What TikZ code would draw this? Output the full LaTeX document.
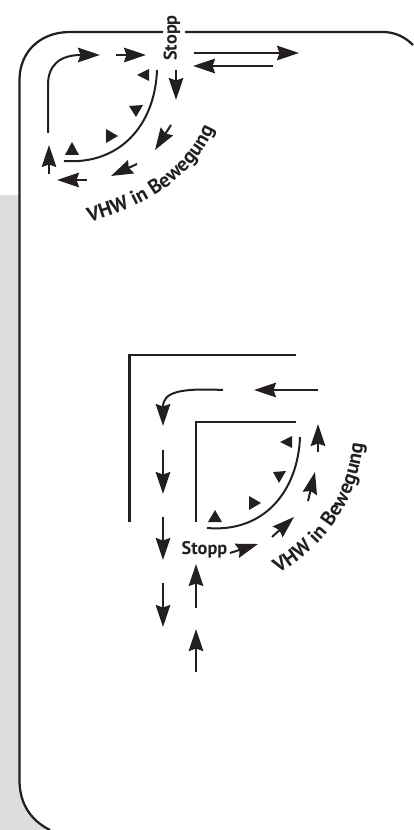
\documentclass[tikz,border=0pt]{standalone}
\usepackage{fontspec}
\setmainfont{PT Sans}
\usepackage{xcolor}
\usepackage{tikz}
\usetikzlibrary{arrows.meta, decorations.text}
\definecolor{ink}{RGB}{35,31,32}
\definecolor{panel}{RGB}{220,221,222}

\begin{document}
\begin{tikzpicture}[
  x=0.02cm, y=-0.02cm,
  road/.style={draw=ink, line width=0.045cm},
  curb/.style={draw=ink, line width=0.04cm},
  lane/.style={-{Stealth[length=0.44cm, width=0.29cm, inset=0.05cm]}, draw=ink, line width=0.04cm},
  label/.style={font=\bfseries\fontsize{10.4pt}{12pt}\selectfont, text=ink, inner sep=0pt},
  bendlabel/.style={decorate, decoration={text along path, text align=center,
    text format delimiters={|}{|},
    text={|\bfseries\fontsize{11.6pt}{13pt}\selectfont\color{ink}|VHW in Bewegung}}}
]
\useasboundingbox (0, 0) rectangle (413, 830);

% grey margin
\fill[panel] (0, 195) rectangle (19.5, 830);
\fill[panel] (19.5, 780) .. controls (19.5, 803) and (30, 820) .. (50, 830) -- (19.5, 830) -- cycle;

% panel outline
\draw[road] (50, 830) .. controls (30, 820) and (19.5, 803) .. (19.5, 780) -- (19.5, 80)
  .. controls (19.5, 52) and (40, 32) .. (70, 32) -- (163, 32);
\draw[road] (185, 32) -- (383, 32) .. controls (395, 32) and (405, 37) .. (413, 45);

% upper crossing
\node[label, rotate=90] (stopptop) at (172, 38) {Stopp};
\draw[lane] (48, 133) -- (48, 85) .. controls (48, 65) and (60, 55) .. (100, 55);
\draw[lane] (116, 55) -- (146, 55);
\draw[lane] (194, 53) -- (299, 53);
\draw[lane] (273, 66) -- (193, 66);
\draw[lane] (176, 70) -- (176, 100);
\draw[lane] (171, 125) -- (155, 150);
\draw[lane] (137, 164) -- (111, 176);
\draw[lane] (87, 180) -- (57, 180);
\draw[lane] (49, 174) -- (49, 145);
\draw[curb] (157, 70) .. controls (155, 125) and (120, 165) .. (64, 161);
\fill[ink] (149, 69) -- (149, 81) -- (137, 75) -- cycle;
\fill[ink] (143, 105) -- (129, 106) -- (136, 117) -- cycle;
\fill[ink] (106, 129) -- (118, 136) -- (106, 143) -- cycle;
\fill[ink] (72, 142) -- (65, 155) -- (79, 155) -- cycle;
\path[bendlabel] (82, 224) .. controls (140, 210) and (195, 180) .. (217, 122);

% lower crossing
\draw[road] (296, 355) -- (129.5, 355) -- (129.5, 522);
\draw[road] (296, 422) -- (196, 422) -- (196, 522);
\draw[lane] (223, 390) .. controls (180, 388) and (163, 392) .. (163, 426);
\draw[lane] (318, 390) -- (254, 390);
\draw[lane] (163, 450) -- (163, 494);
\draw[lane] (163, 517) -- (163, 560);
\draw[lane] (163, 583) -- (163, 627);
\draw[lane] (196, 608) -- (196, 564);
\draw[lane] (196, 672) -- (196, 629);
\draw[lane] (230, 553) -- (258, 544);
\draw[lane] (272, 537) -- (294, 517);
\draw[lane] (308, 501) -- (315, 472);
\draw[lane] (318, 452) -- (318, 424);
\draw[curb] (300, 437) .. controls (298, 490) and (265, 533) .. (207, 528);
\fill[ink] (292, 436) -- (292, 448) -- (280, 442) -- cycle;
\fill[ink] (286, 471) -- (273, 472) -- (279, 483) -- cycle;
\fill[ink] (249, 496) -- (261, 503) -- (249, 510) -- cycle;
\fill[ink] (215, 510) -- (208, 522) -- (222, 522) -- cycle;
\node[label] (stoppbottom) at (204.5, 550) {Stopp};
\path[bendlabel] (270, 578) .. controls (320, 552) and (360, 505) .. (364, 434);

\end{tikzpicture}
\end{document}
